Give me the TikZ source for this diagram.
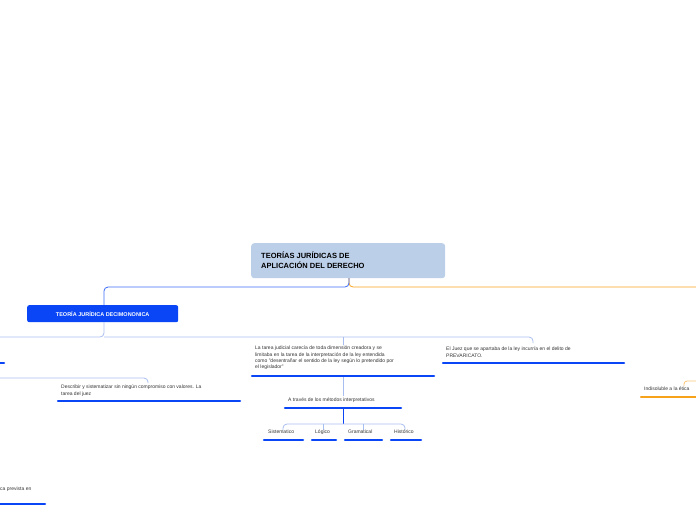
\documentclass[tikz,border=0pt]{standalone}
\usepackage{fontspec}
\setmainfont{Liberation Sans}
\definecolor{dblue}{HTML}{0A46F5}
\definecolor{lblue}{HTML}{A9BEF0}
\definecolor{rootc}{HTML}{BCCFE9}
\definecolor{orng}{HTML}{F7A21B}
\begin{document}
\begin{tikzpicture}[x=1pt,y=-1pt,
 txt/.style={anchor=north west,inner sep=0pt,align=left,font=\fontsize{5}{6.3}\selectfont,text=black!80},
 ul/.style={draw=dblue,line width=2.5pt,line cap=round},
 ulo/.style={draw=orng,line width=2.5pt,line cap=round},
 conn/.style={draw=lblue,line width=0.8pt,rounded corners=4pt},
 connd/.style={draw=dblue!80,line width=0.8pt,rounded corners=4pt}]
\useasboundingbox (0,0) rectangle (696,520);
% root
\node[fill=rootc,rounded corners=3pt,minimum width=194pt,minimum height=35pt,anchor=north west] (root) at (251,243) {};
\node[anchor=north west,inner sep=0pt,align=left,font=\bfseries\fontsize{7.5}{10}\selectfont] (roott) at (261,252) {TEORÍAS JURÍDICAS DE\\APLICACIÓN DEL DERECHO};
\draw[draw=orng,line width=0.8pt,rounded corners=4pt] (349,278) -- (349,287) -- (696,287);
\draw[connd] (349,278) -- (349,287) -- (104,287) -- (104,305);
% decimononica
\node[fill=dblue,rounded corners=2pt,minimum width=151pt,minimum height=17pt,anchor=north west,text=white,font=\bfseries\fontsize{5.5}{6}\selectfont] (dec) at (27,305) {TEORÍA JURÍDICA DECIMONONICA};
\draw[conn] (104,322) -- (104,337) -- (0,337);
\draw[conn] (104,337) -- (533,337) -- (533,343);
\draw[conn] (343,337) -- (343,345);
% left partial
\draw[ul] (0,363) -- (4,363);
\draw[conn] (0,378) -- (148,378) -- (148,383);
\node[txt] (desc) at (61,385) {Describir y sistematizar sin ningún compromiso con valores. La\\tarea del juez};
\draw[ul] (58,401) -- (240,401);
\node[txt] (tarea) at (255,346) {La tarea judicial carecía  de toda dimensión creadora  y se\\limitaba en la tarea de la interpretación de la ley entendida\\como "desentrañar el sentido de la ley según lo pretendido por\\el legislador"};
\draw[ul] (252,376) -- (434,376);
\node[txt] (juez) at (446,347) {El Juez que se apartaba de la ley  incurría en el delito de\\PREVARICATO.};
\draw[ul] (443,363) -- (624,363);
\draw[conn] (343,377) -- (343,396);
\node[txt] (atraves) at (288,398) {A través de los métodos interpretativos};
\draw[ul] (285,408) -- (401,408);
\draw[draw=dblue,line width=1pt] (343,409) -- (343,424);
\draw[conn] (283,430) -- (283,424) -- (405,424) -- (405,430);
\draw[conn] (323,430) -- (323,424);
\draw[conn] (363,430) -- (363,424);
\node[txt] (sis) at (268,430) {Sistematico};
\draw[ul] (264,440) -- (303,440);
\node[txt] (log) at (315,430) {Lógico};
\draw[ul] (312,440) -- (336,440);
\node[txt] (gra) at (348,430) {Gramatical};
\draw[ul] (345,440) -- (382,440);
\node[txt] (his) at (394,430) {Histórico};
\draw[ul] (391,440) -- (421,440);
% right orange
\draw[draw=orng!60,line width=0.8pt,rounded corners=3pt] (684,386) -- (684,381) -- (696,381);
\node[txt] (ind) at (644,387) {Indisoluble a la ética};
\draw[ulo] (641,397) -- (700,397);
% bottom left
\node[txt] (ca) at (0,487) {ca prevista en};
\draw[ul] (-2,504) -- (45,504);
\end{tikzpicture}
\end{document}
